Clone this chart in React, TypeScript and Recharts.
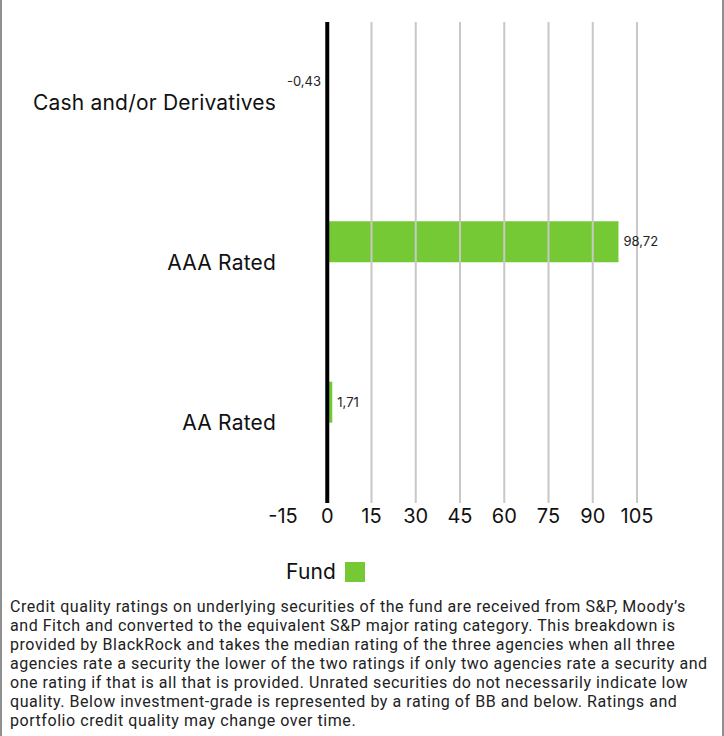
import React from "react"
import {
  BarChart,
  Bar,
  XAxis,
  YAxis,
  Legend,
  LabelList,
  ReferenceLine,
} from "recharts"

const CATEGORIES = ["Cash and/or Derivatives", "AAA Rated", "AA Rated"]
const FUND_VALUES = [-0.43, 98.72, 1.71]
const X_TICKS = [-15, 0, 15, 30, 45, 60, 75, 90, 105]
const GRID_VALUES = [15, 30, 45, 60, 75, 90, 105]

const NOTE_LINES = [
  "Credit quality ratings on underlying securities of the fund are received from S&P, Moody\u2019s",
  "and Fitch and converted to the equivalent S&P major rating category. This breakdown is",
  "provided by BlackRock and takes the median rating of the three agencies when all three",
  "agencies rate a security the lower of the two ratings if only two agencies rate a security and",
  "one rating if that is all that is provided. Unrated securities do not necessarily indicate low",
  "quality. Below investment-grade is represented by a rating of BB and below. Ratings and",
  "portfolio credit quality may change over time.",
]

const GREEN = "#74c935"
const FONT = "Inter, 'Noto Sans', sans-serif"

const data = CATEGORIES.map((name, i) => ({ name, fund: FUND_VALUES[i] }))

const fmt = (v: any) => String(v).replace(".", ",")

function FundLegend({ payload }: any) {
  const items = (payload || []).filter((p: any) => p.type !== "none" && p.value === "Fund")
  return (
    <div style={{ display: "flex", alignItems: "center", fontFamily: FONT, fontSize: 21, letterSpacing: 0.2, color: "#111" }}>
      {items.map((p: any) => (
        <React.Fragment key={p.value}>
          <span>{p.value}</span>
          <span style={{ display: "inline-block", width: 20, height: 20, background: p.color, marginLeft: 9 }} />
        </React.Fragment>
      ))}
    </div>
  )
}

export default function App() {
  return (
    <div
      style={{
        position: "absolute",
        top: 0,
        left: 0,
        width: 724,
        height: 736,
        boxSizing: "border-box",
        borderLeft: "2px solid #8f8f8f",
        borderRight: "2px solid #8f8f8f",
        background: "#fff",
      }}
    >
      <BarChart
        width={720}
        height={592}
        data={data}
        layout="vertical"
        margin={{ top: 22, right: 85, bottom: 49, left: 0 }}
        barCategoryGap={0}
        barGap={0}
      >
        <XAxis
          type="number"
          domain={[-15, 105]}
          ticks={X_TICKS}
          interval={0}
          axisLine={false}
          tickLine={false}
          tickSize={0}
          tickMargin={6}
          height={40}
          tick={{ fill: "#111", fontSize: 20, fontFamily: FONT }}
        />
        <YAxis
          type="category"
          dataKey="name"
          width={281}
          axisLine={false}
          tickLine={false}
          tickSize={0}
          tickMargin={7}
          tick={{ fill: "#111", fontSize: 21, letterSpacing: 0.2, fontFamily: FONT }}
        />
        {GRID_VALUES.map((v) => (
          <ReferenceLine key={v} x={v} stroke="#c8c8c8" strokeWidth={2} />
        ))}
        <ReferenceLine x={0} stroke="#000" strokeWidth={4} />
        <Legend
          layout="vertical"
          align="center"
          verticalAlign="middle"
          wrapperStyle={{ top: 559, left: 284, width: "auto" }}
          content={<FundLegend />}
        />
        <Bar dataKey="fund" name="Fund" fill={GREEN} barSize={41} isAnimationActive={false}>
          <LabelList
            dataKey="fund"
            position="right"
            offset={5}
            formatter={fmt}
            style={{ fill: "#222", fontSize: 13, fontFamily: FONT }}
          />
        </Bar>
        <Bar dataKey="benchmark" name="Benchmark" fill="#999" barSize={41} legendType="none" isAnimationActive={false} />
      </BarChart>
      <div
        style={{
          position: "absolute",
          top: 597,
          left: 8,
          fontFamily: "Roboto, sans-serif",
          fontSize: 16,
          letterSpacing: 0.55,
          lineHeight: "19px",
          color: "#222",
          whiteSpace: "nowrap",
        }}
      >
        {NOTE_LINES.map((l, i) => (
          <div key={i}>{l}</div>
        ))}
      </div>
    </div>
  )
}
